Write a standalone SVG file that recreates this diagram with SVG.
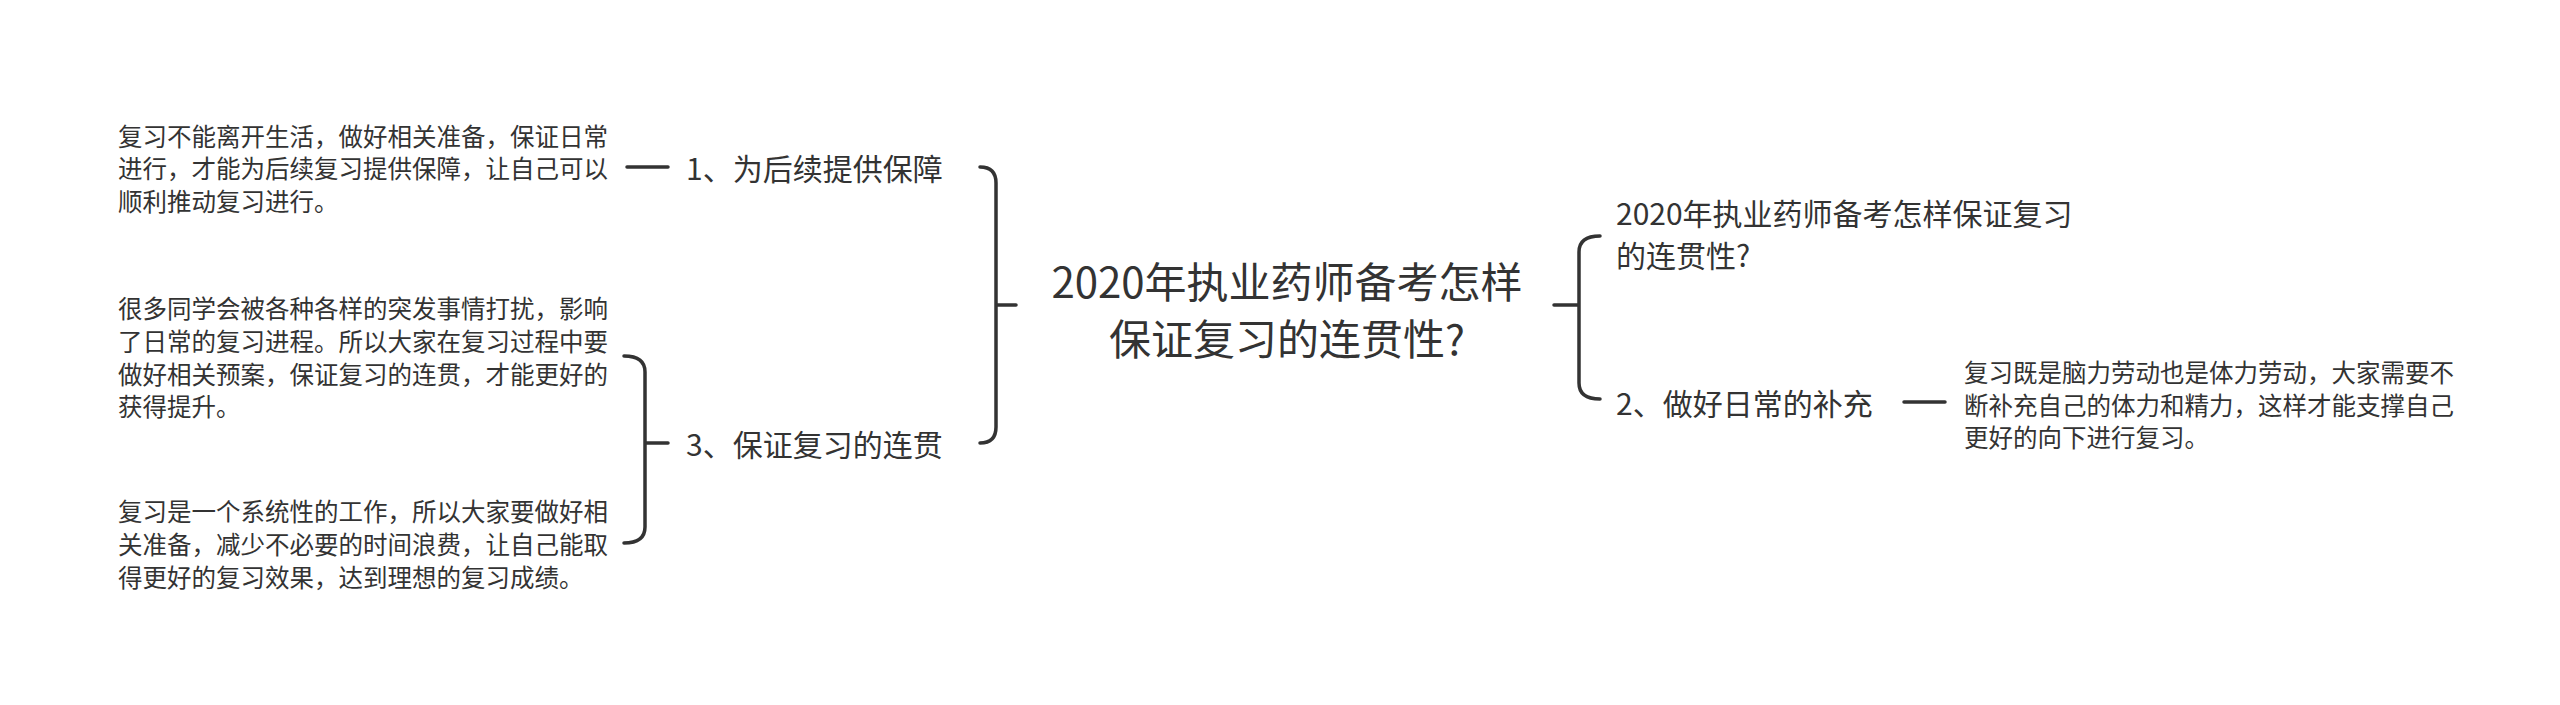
<svg xmlns="http://www.w3.org/2000/svg" width="2560" height="705" viewBox="0 0 2560 705">
<style>
text{font-family:"Noto Sans CJK SC","Noto Sans",sans-serif;fill:#333;dominant-baseline:central}
.c{font-size:42px;text-anchor:middle}
.m{font-size:30px}
.l{font-size:24.5px}
.k{fill:none;stroke:#333;stroke-width:3.5;stroke-linecap:round}
</style>
<rect width="2560" height="705" fill="#fff"/>
<g id="connectors">
<path class="k" d="M996 305H1016M980 167Q996 167 996 183V427Q996 443 980 443"/>
<path class="k" d="M1554 305H1579M1600 236Q1579 236 1579 252V383Q1579 399 1600 399"/>
<path class="k" d="M627 167H668"/>
<path class="k" d="M645 443H668M624 356Q645 356 645 372V527Q645 543 624 543"/>
<path class="k" d="M1904 402H1945"/>
</g>
<g id="center"><text class="c" x="1287" y="279">2020年执业药师备考怎样</text><text class="c" x="1287" y="336">保证复习的连贯性?</text></g>
<g id="n1"><text class="m" x="686" y="167">1、为后续提供保障</text></g>
<g id="n3"><text class="m" x="686" y="443">3、保证复习的连贯</text></g>
<g id="nr"><text class="m" x="1616" y="212">2020年执业药师备考怎样保证复习</text><text class="m" x="1616" y="254">的连贯性?</text></g>
<g id="n2"><text class="m" x="1616" y="402">2、做好日常的补充</text></g>
<g id="l1"><text class="l" x="118" y="135">复习不能离开生活，做好相关准备，保证日常</text><text class="l" x="118" y="167">进行，才能为后续复习提供保障，让自己可以</text><text class="l" x="118" y="200">顺利推动复习进行。</text></g>
<g id="l3a"><text class="l" x="118" y="307">很多同学会被各种各样的突发事情打扰，影响</text><text class="l" x="118" y="340">了日常的复习进程。所以大家在复习过程中要</text><text class="l" x="118" y="373">做好相关预案，保证复习的连贯，才能更好的</text><text class="l" x="118" y="405">获得提升。</text></g>
<g id="l3b"><text class="l" x="118" y="510">复习是一个系统性的工作，所以大家要做好相</text><text class="l" x="118" y="543">关准备，减少不必要的时间浪费，让自己能取</text><text class="l" x="118" y="576">得更好的复习效果，达到理想的复习成绩。</text></g>
<g id="l2"><text class="l" x="1964" y="371">复习既是脑力劳动也是体力劳动，大家需要不</text><text class="l" x="1964" y="404">断补充自己的体力和精力，这样才能支撑自己</text><text class="l" x="1964" y="436">更好的向下进行复习。</text></g>
</svg>
